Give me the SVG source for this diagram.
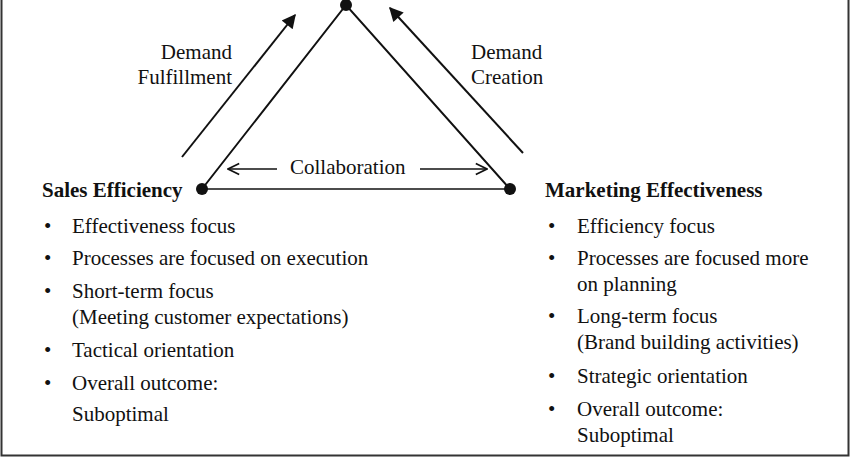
<svg xmlns="http://www.w3.org/2000/svg" width="850" height="457" viewBox="0 0 850 457">
<style>
text{font-family:"Liberation Serif",serif;font-size:21px;fill:#111}
.b{font-weight:bold}
.l{stroke:#111;stroke-width:2;fill:none}
.t{stroke:#111;stroke-width:1.5;fill:none}
</style>
<defs>
<marker id="ah" viewBox="0 0 10 10" refX="9" refY="5" markerWidth="16" markerHeight="14" orient="auto" markerUnits="userSpaceOnUse"><path d="M0,0 L10,5 L0,10 Z" fill="#111"/></marker>
<marker id="oa" viewBox="0 0 10 10" refX="9" refY="5" markerWidth="14" markerHeight="14" orient="auto" markerUnits="userSpaceOnUse"><path d="M1,1 L9,5 L1,9" fill="none" stroke="#111" stroke-width="1.2"/></marker>
</defs>
<rect width="850" height="457" fill="#fff"/>
<path d="M1.5,0 V455.5 H848.5 V0" stroke="#333" stroke-width="2" fill="none"/>
<g id="connectors">
<path class="l" d="M202,189 L346,5 L510,189"/>
<path class="t" d="M202,189 H510"/>
<path class="l" d="M182,157 L295,15" marker-end="url(#ah)"/>
<path class="l" d="M523,153 L390,8" marker-end="url(#ah)"/>
<path class="t" d="M277,169 H228" marker-end="url(#oa)"/>
<path class="t" d="M420,169 H487" marker-end="url(#oa)"/>
</g>
<g id="top"><circle cx="346" cy="5" r="6" fill="#111"/></g>
<g id="labels">
<text x="232" y="59" text-anchor="end">Demand</text>
<text x="232" y="84" text-anchor="end">Fulfillment</text>
<text x="471" y="59">Demand</text>
<text x="471" y="84">Creation</text>
<text x="290" y="174">Collaboration</text>
</g>
<g id="sales">
<circle cx="202" cy="189" r="6" fill="#111"/>
<text class="b" x="42" y="197">Sales Efficiency</text>
<text x="44" y="233">•</text><text x="72" y="233">Effectiveness focus</text>
<text x="44" y="265">•</text><text x="72" y="265">Processes are focused on execution</text>
<text x="44" y="298">•</text><text x="72" y="298">Short-term focus</text>
<text x="72" y="324">(Meeting customer expectations)</text>
<text x="44" y="357">•</text><text x="72" y="357">Tactical orientation</text>
<text x="44" y="390">•</text><text x="72" y="390">Overall outcome:</text>
<text x="72" y="421">Suboptimal</text>
</g>
<g id="marketing">
<circle cx="510" cy="189" r="6" fill="#111"/>
<text class="b" x="545" y="197">Marketing Effectiveness</text>
<text x="548" y="233">•</text><text x="577" y="233">Efficiency focus</text>
<text x="548" y="265">•</text><text x="577" y="265">Processes are focused more</text>
<text x="577" y="291">on planning</text>
<text x="548" y="323">•</text><text x="577" y="323">Long-term focus</text>
<text x="577" y="349">(Brand building activities)</text>
<text x="548" y="383">•</text><text x="577" y="383">Strategic orientation</text>
<text x="548" y="416">•</text><text x="577" y="416">Overall outcome:</text>
<text x="577" y="442">Suboptimal</text>
</g>
</svg>
